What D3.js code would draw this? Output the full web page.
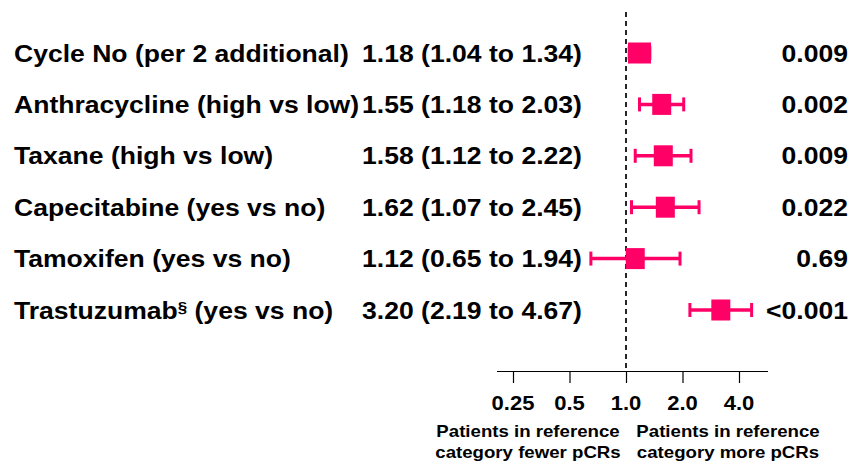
<!DOCTYPE html>
<html>
<head>
<meta charset="utf-8">
<script src="https://cdn.jsdelivr.net/npm/d3@7/dist/d3.min.js"></script>
<style>
  html, body { margin: 0; padding: 0; background: #fff; }
  svg text { font-family: Arial, "Liberation Sans", sans-serif; font-weight: bold; fill: #000; }
</style>
</head>
<body>
<svg id="chart" width="854" height="464"></svg>
<script>
const labels = ["Cycle No (per 2 additional)", "Anthracycline (high vs low)", "Taxane (high vs low)",
                "Capecitabine (yes vs no)", "Tamoxifen (yes vs no)", "Trastuzumab"];
const estimates = [1.18, 1.55, 1.58, 1.62, 1.12, 3.20];
const lower = [1.04, 1.18, 1.12, 1.07, 0.65, 2.19];
const upper = [1.34, 2.03, 2.22, 2.45, 1.94, 4.67];
const ciText = ["1.18 (1.04 to 1.34)", "1.55 (1.18 to 2.03)", "1.58 (1.12 to 2.22)",
                "1.62 (1.07 to 2.45)", "1.12 (0.65 to 1.94)", "3.20 (2.19 to 4.67)"];
const pValues = ["0.009", "0.002", "0.009", "0.022", "0.69", "<0.001"];
const tickValues = [0.25, 0.5, 1, 2, 4];
const tickLabels = ["0.25", "0.5", "1.0", "2.0", "4.0"];
const footLeft = ["Patients in reference", "category fewer pCRs"];
const footRight = ["Patients in reference", "category more pCRs"];

const svg = d3.select("#chart");
const color = "#ff0066";
const sx = 1.13; // horizontal stretch of the original's lettering

const x = d3.scaleLog().base(2).domain([0.25, 4]).range([513, 739]);
const y = d3.scalePoint().domain(d3.range(labels.length)).range([53, 310]);
const axisY = 371;

function stretchedText(parent, tx, ty, anchor, size) {
  return parent.append("text")
    .attr("transform", `translate(${tx},${ty}) scale(${sx},1)`)
    .attr("text-anchor", anchor)
    .style("font-size", size + "px");
}

// dashed reference line
svg.append("line")
  .attr("x1", x(1)).attr("x2", x(1))
  .attr("y1", 12).attr("y2", axisY)
  .attr("stroke", "#000").attr("stroke-width", 1.7)
  .attr("stroke-dasharray", "5,4");

// axis
const axis = d3.axisBottom(x).tickValues(tickValues).tickFormat(() => "").tickSize(12).tickSizeOuter(0);
const ag = svg.append("g").attr("transform", `translate(0,${axisY})`).call(axis);
ag.select(".domain").attr("d", `M497,0.5H768`).attr("stroke", "#000").attr("stroke-width", 1.2);
ag.selectAll(".tick line").attr("stroke", "#000").attr("stroke-width", 1.2);
ag.selectAll(".tick text").remove();
tickValues.forEach((v, i) => {
  stretchedText(svg, x(v), 410, "middle", 19.5).text(tickLabels[i]);
});

labels.forEach((d, i) => {
  const cy = y(i) + 8.5;
  const t = stretchedText(svg, 14, cy, "start", 23.5);
  t.append("tspan").text(d);
  if (i === labels.length - 1) {
    t.append("tspan").text("§").style("font-size", "15px").attr("dy", -7);
    t.append("tspan").text(" (yes vs no)").attr("dy", 7);
  }
  stretchedText(svg, 472, cy, "middle", 23.5).text(ciText[i]);
  stretchedText(svg, 848, cy, "end", 23.5).text(pValues[i]);
});

const rows = svg.append("g").selectAll("g").data(labels).join("g");

// CI lines
rows.append("line")
  .attr("x1", (d, i) => x(lower[i])).attr("x2", (d, i) => x(upper[i]))
  .attr("y1", (d, i) => y(i)).attr("y2", (d, i) => y(i))
  .attr("stroke", color).attr("stroke-width", 3.5);
[lower, upper].forEach(arr => {
  rows.append("line")
    .attr("x1", (d, i) => x(arr[i])).attr("x2", (d, i) => x(arr[i]))
    .attr("y1", (d, i) => y(i) - 7).attr("y2", (d, i) => y(i) + 7)
    .attr("stroke", color).attr("stroke-width", 3);
});

// squares
rows.append("rect")
  .attr("x", (d, i) => x(estimates[i]) - (i === 0 ? 11.5 : 9.5))
  .attr("y", (d, i) => y(i) - 10.5)
  .attr("width", (d, i) => i === 0 ? 23 : 19)
  .attr("height", 21)
  .attr("fill", color);

// footnotes
[[footLeft, 528], [footRight, 728]].forEach(([lines, cx]) => {
  lines.forEach((line, j) => {
    stretchedText(svg, cx, 437 + j * 21, "middle", 16.5).text(line);
  });
});
</script>
</body>
</html>
